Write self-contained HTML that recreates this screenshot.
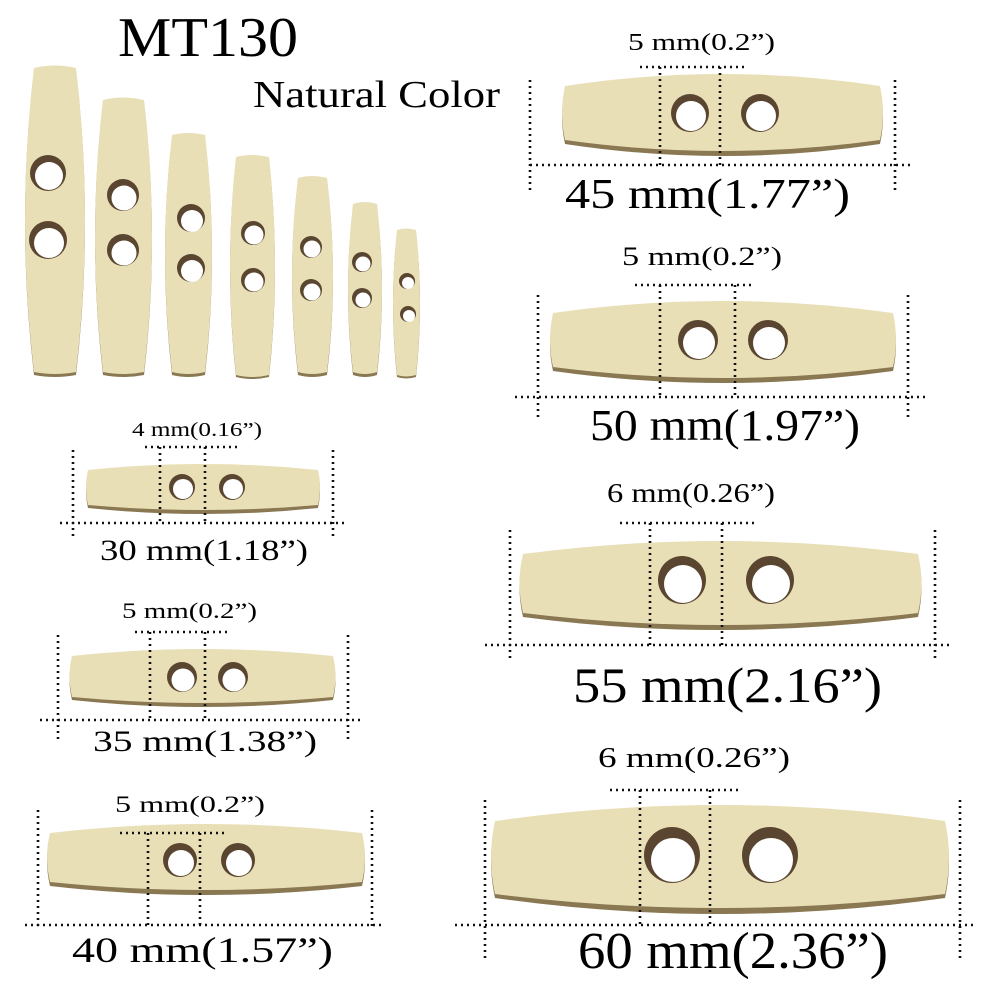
<!DOCTYPE html>
<html><head><meta charset="utf-8"><style>
html,body{margin:0;padding:0;background:#fff}
svg{display:block}
text{font-family:"Liberation Serif",serif;fill:#000}
.b{fill:#e9dfb6}
.s{fill:#8a7853}
.o{fill:#5a4630}
.w{fill:#fff}
.d{stroke:#111;stroke-width:2.6;stroke-dasharray:2 4;fill:none}
</style></head><body>
<svg width="1000" height="1000" viewBox="0 0 1000 1000" xmlns="http://www.w3.org/2000/svg">
<text x="118" y="56" font-size="56" textLength="180" lengthAdjust="spacingAndGlyphs">MT130</text>
<text x="253" y="107" font-size="38" textLength="247" lengthAdjust="spacingAndGlyphs">Natural Color</text>

<!-- vertical buttons -->
<path class="s" d="M34,70 Q55,65 76,70 Q94,222 76,375 Q55,379 34,375 Q16,222 34,70Z"/>
<path class="b" d="M34,68 Q55,63 76,68 Q94,220 76,372 Q55,376 34,372 Q16,220 34,68Z"/>
<path class="s" d="M103,102 Q123,97 144,102 Q160,238 144,375 Q123,379 103,375 Q87,238 103,102Z"/>
<path class="b" d="M103,100 Q123,95 144,100 Q160,236 144,372 Q123,376 103,372 Q87,236 103,100Z"/>
<path class="s" d="M172,137 Q188,133 205,137 Q219,255 205,375 Q188,379 172,375 Q158,255 172,137Z"/>
<path class="b" d="M172,135 Q188,131 205,135 Q219,253 205,372 Q188,376 172,372 Q158,253 172,135Z"/>
<path class="s" d="M236,159 Q252,155 269,159 Q281,268 269,377 Q252,381 236,377 Q224,268 236,159Z"/>
<path class="b" d="M236,157 Q252,153 269,157 Q281,266 269,375 Q252,379 236,375 Q224,266 236,157Z"/>
<path class="s" d="M298,180 Q312,176 327,180 Q339,277 327,375 Q312,379 298,375 Q286,277 298,180Z"/>
<path class="b" d="M298,178 Q312,174 327,178 Q339,275 327,372 Q312,376 298,372 Q286,275 298,178Z"/>
<path class="s" d="M353,206 Q365,202 377,206 Q387,290 377,375 Q365,379 353,375 Q343,290 353,206Z"/>
<path class="b" d="M353,204 Q365,200 377,204 Q387,288 377,372 Q365,376 353,372 Q343,288 353,204Z"/>
<path class="s" d="M397,232 Q406,229 416,232 Q424,304 416,377 Q406,380 397,377 Q389,304 397,232Z"/>
<path class="b" d="M397,230 Q406,227 416,230 Q424,302 416,375 Q406,378 397,375 Q389,302 397,230Z"/>
<g>
<circle class="o" cx="48" cy="173" r="18"/><circle class="w" cx="49" cy="176" r="14"/>
<circle class="o" cx="48" cy="240" r="19"/><circle class="w" cx="49" cy="243" r="15"/>
<circle class="o" cx="123" cy="195" r="16"/><circle class="w" cx="124" cy="198" r="12.5"/>
<circle class="o" cx="123" cy="250" r="16"/><circle class="w" cx="124" cy="253" r="12.5"/>
<circle class="o" cx="191" cy="218" r="14"/><circle class="w" cx="192" cy="221" r="11"/>
<circle class="o" cx="191" cy="268" r="14"/><circle class="w" cx="192" cy="271" r="11"/>
<circle class="o" cx="253" cy="233" r="12"/><circle class="w" cx="254" cy="235" r="9.5"/>
<circle class="o" cx="253" cy="280" r="12"/><circle class="w" cx="254" cy="282" r="9.5"/>
<circle class="o" cx="311" cy="247" r="11"/><circle class="w" cx="312" cy="249" r="8.5"/>
<circle class="o" cx="311" cy="290" r="11"/><circle class="w" cx="312" cy="292" r="8.5"/>
<circle class="o" cx="362" cy="262" r="10"/><circle class="w" cx="363" cy="264" r="7.5"/>
<circle class="o" cx="362" cy="298" r="10"/><circle class="w" cx="363" cy="300" r="7.5"/>
<circle class="o" cx="407" cy="281" r="8"/><circle class="w" cx="408" cy="283" r="6"/>
<circle class="o" cx="408" cy="314" r="8"/><circle class="w" cx="409" cy="316" r="6"/>
</g>

<!-- 45mm -->
<path class="s" d="M565,90 Q722,66 880,90 Q886,117 880,144 Q722,168 565,144 Q559,117 565,90Z"/>
<path class="b" d="M565,86 Q722,62 880,86 Q886,113 880,140 Q722,162 565,140 Q559,113 565,86Z"/>
<circle class="o" cx="690" cy="113" r="19"/><circle class="w" cx="691" cy="116" r="15"/>
<circle class="o" cx="760" cy="113" r="19"/><circle class="w" cx="761" cy="116" r="15"/>
<path class="d" d="M530,80V190M895,80V190M530,165H910M640,67H745M660,67V165M720,67V165"/>
<text x="628" y="50" font-size="24" textLength="147" lengthAdjust="spacingAndGlyphs">5 mm(0.2”)</text>
<text x="565" y="208" font-size="42" textLength="285" lengthAdjust="spacingAndGlyphs">45 mm(1.77”)</text>

<!-- 50mm -->
<path class="s" d="M553,317 Q723,293 893,317 Q899,344 893,371 Q723,395 553,371 Q547,344 553,317Z"/>
<path class="b" d="M553,313 Q723,289 893,313 Q899,340 893,367 Q723,389 553,367 Q547,340 553,313Z"/>
<circle class="o" cx="698" cy="340" r="20"/><circle class="w" cx="699" cy="343" r="16"/>
<circle class="o" cx="768" cy="340" r="20"/><circle class="w" cx="769" cy="343" r="16"/>
<path class="d" d="M538,295V420M908,295V420M515,397H925M635,285H755M660,285V397M735,285V397"/>
<text x="622" y="265" font-size="26" textLength="160" lengthAdjust="spacingAndGlyphs">5 mm(0.2”)</text>
<text x="590" y="440" font-size="44" textLength="270" lengthAdjust="spacingAndGlyphs">50 mm(1.97”)</text>

<!-- 55mm -->
<path class="s" d="M523,558 Q720,532 918,558 Q925,587 918,617 Q720,643 523,617 Q516,587 523,558Z"/>
<path class="b" d="M523,554 Q720,528 918,554 Q925,583 918,613 Q720,637 523,613 Q516,583 523,554Z"/>
<circle class="o" cx="682" cy="580" r="24"/><circle class="w" cx="683" cy="584" r="19"/>
<circle class="o" cx="770" cy="580" r="24"/><circle class="w" cx="771" cy="584" r="19"/>
<path class="d" d="M510,530V660M935,530V660M485,645H950M620,523H755M650,523V645M722,523V645"/>
<text x="607" y="502" font-size="27" textLength="168" lengthAdjust="spacingAndGlyphs">6 mm(0.26”)</text>
<text x="573" y="702" font-size="50" textLength="309" lengthAdjust="spacingAndGlyphs">55 mm(2.16”)</text>

<!-- 60mm -->
<path class="s" d="M495,825 Q720,793 945,825 Q953,861 945,898 Q720,930 495,898 Q487,861 495,825Z"/>
<path class="b" d="M495,821 Q720,789 945,821 Q953,857 945,894 Q720,922 495,894 Q487,857 495,821Z"/>
<circle class="o" cx="672" cy="855" r="28"/><circle class="w" cx="673" cy="860" r="22"/>
<circle class="o" cx="770" cy="855" r="28"/><circle class="w" cx="771" cy="860" r="22"/>
<path class="d" d="M485,800V960M960,800V960M455,925H975M610,790H740M640,790V925M710,790V925"/>
<text x="598" y="767" font-size="29" textLength="192" lengthAdjust="spacingAndGlyphs">6 mm(0.26”)</text>
<text x="578" y="968" font-size="52" textLength="310" lengthAdjust="spacingAndGlyphs">60 mm(2.36”)</text>

<!-- 30mm -->
<path class="s" d="M88,473 Q203,461 318,473 Q322,490 318,508 Q203,520 88,508 Q84,490 88,473Z"/>
<path class="b" d="M88,470 Q203,458 318,470 Q322,487 318,505 Q203,515 88,505 Q84,487 88,470Z"/>
<circle class="o" cx="182" cy="487" r="13"/><circle class="w" cx="183" cy="489" r="10"/>
<circle class="o" cx="232" cy="487" r="13"/><circle class="w" cx="233" cy="489" r="10"/>
<path class="d" d="M73,450V540M333,450V540M60,523H345M145,447H240M160,447V523M205,447V523"/>
<text x="132" y="436" font-size="20" textLength="130" lengthAdjust="spacingAndGlyphs">4 mm(0.16”)</text>
<text x="100" y="560" font-size="30" textLength="208" lengthAdjust="spacingAndGlyphs">30 mm(1.18”)</text>

<!-- 35mm -->
<path class="s" d="M72,659 Q202,645 333,659 Q338,680 333,700 Q202,714 72,700 Q67,680 72,659Z"/>
<path class="b" d="M72,656 Q202,642 333,656 Q338,676 333,697 Q202,709 72,697 Q67,676 72,656Z"/>
<circle class="o" cx="182" cy="677" r="15"/><circle class="w" cx="183" cy="680" r="11.5"/>
<circle class="o" cx="233" cy="677" r="15"/><circle class="w" cx="234" cy="680" r="11.5"/>
<path class="d" d="M58,635V740M348,635V740M40,720H360M135,632H230M150,632V720M205,632V720"/>
<text x="122" y="618" font-size="22" textLength="135" lengthAdjust="spacingAndGlyphs">5 mm(0.2”)</text>
<text x="93" y="751" font-size="30" textLength="224" lengthAdjust="spacingAndGlyphs">35 mm(1.38”)</text>

<!-- 40mm -->
<path class="s" d="M50,836 Q206,818 362,836 Q368,861 362,886 Q206,904 50,886 Q44,861 50,836Z"/>
<path class="b" d="M50,833 Q206,815 362,833 Q368,857 362,882 Q206,898 50,882 Q44,857 50,833Z"/>
<circle class="o" cx="180" cy="860" r="17"/><circle class="w" cx="181" cy="863" r="13"/>
<circle class="o" cx="238" cy="860" r="17"/><circle class="w" cx="239" cy="863" r="13"/>
<path class="d" d="M38,810V930M372,810V930M25,925H385M120,833H225M148,833V925M200,833V925"/>
<text x="115" y="812" font-size="23" textLength="150" lengthAdjust="spacingAndGlyphs">5 mm(0.2”)</text>
<text x="72" y="962" font-size="36" textLength="261" lengthAdjust="spacingAndGlyphs">40 mm(1.57”)</text>
</svg>
</body></html>
